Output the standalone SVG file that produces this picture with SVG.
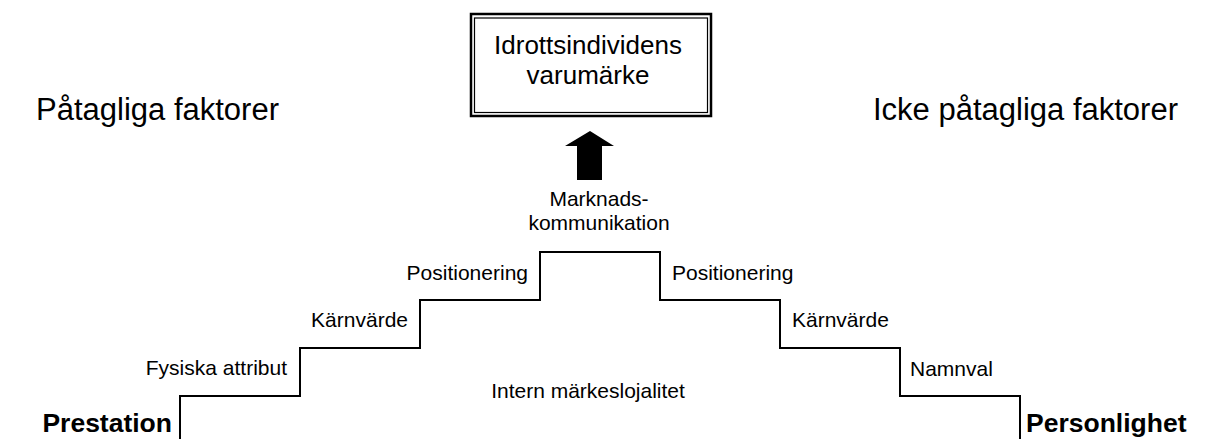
<svg xmlns="http://www.w3.org/2000/svg" width="1209" height="439" viewBox="0 0 1209 439">
<style>
text{font-family:"Liberation Sans",Arial,sans-serif;fill:#000}
.s{font-size:21px}
.h{font-size:31px}
.b{font-size:26.5px;font-weight:bold}
.t{font-size:26px}
.stair{fill:none;stroke:#000;stroke-width:2}
</style>
<rect width="1209" height="439" fill="#fff"/>
<g id="title">
<rect x="471" y="14" width="240" height="102" fill="none" stroke="#000" stroke-width="2.5"/>
<rect x="474.5" y="18" width="233" height="94.5" fill="none" stroke="#000" stroke-width="1.2"/>
<text class="t" x="588" y="54" text-anchor="middle">Idrottsindividens</text>
<text class="t" x="588" y="84" text-anchor="middle">varumärke</text>
</g>
<g id="labels-top">
<text class="h" x="36" y="120">Påtagliga faktorer</text>
<text class="h" x="1178" y="120" text-anchor="end">Icke påtagliga faktorer</text>
</g>
<g id="connectors">
<polygon points="590,131 614,146 602,146 602,180 577,180 577,146 565,146" fill="#000"/>
<polyline class="stair" points="180,439 180,396 300,396 300,348 420,348 420,300 540,300 540,252 660,252 660,300 780,300 780,348 900,348 900,396 1020,396 1020,439"/>
</g>
<g id="marknad">
<text class="s" x="599" y="206" text-anchor="middle">Marknads-</text>
<text class="s" x="599" y="230" text-anchor="middle">kommunikation</text>
</g>
<g id="left-steps">
<text class="s" x="287" y="375" text-anchor="end">Fysiska attribut</text>
<text class="s" x="408" y="327" text-anchor="end">Kärnvärde</text>
<text class="s" x="528" y="280" text-anchor="end">Positionering</text>
</g>
<g id="right-steps">
<text class="s" x="672" y="280">Positionering</text>
<text class="s" x="792" y="327">Kärnvärde</text>
<text class="s" x="910" y="376">Namnval</text>
</g>
<g id="intern">
<text class="s" x="588" y="398" text-anchor="middle">Intern märkeslojalitet</text>
</g>
<g id="prestation">
<text class="b" x="172" y="432" text-anchor="end">Prestation</text>
</g>
<g id="personlighet">
<text class="b" x="1026" y="432">Personlighet</text>
</g>
</svg>
